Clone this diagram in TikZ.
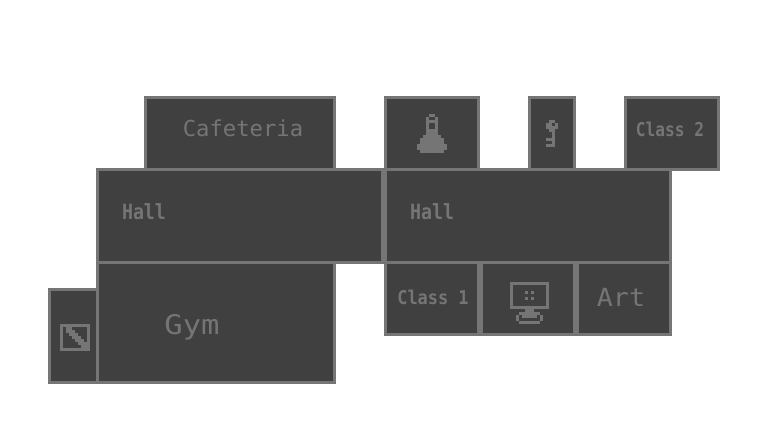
\documentclass[tikz,border=0pt]{standalone}
\usepackage{fontspec}
\newfontfamily\pixfont{DejaVu Sans Mono}
\definecolor{roomfill}{RGB}{64,64,64}
\definecolor{roomline}{RGB}{117,117,117}
\tikzset{
	room/.style={draw=roomline,fill=roomfill,line width=3pt,rectangle,inner sep=0pt,outer sep=0pt,anchor=north west},
	lbl/.style={text=roomline,inner sep=0pt,transform shape}
}
\newcommand{\lblsize}[1]{\pixfont\fontsize{#1}{#1}\selectfont}

\begin{document}
\begin{tikzpicture}[x=1pt,y=-1pt]
	\useasboundingbox (0,0) rectangle (768,432);
	\fill[white] (0,0) rectangle (768,432);
	\foreach \nm/\xa/\ya/\bw/\bh in {cafeteria/144/96/192/75,lab/384/96/96/75,keyroom/528/96/48/75,classtwo/624/96/96/75,
		hallwest/96/168/288/96,halleast/384/168/288/96,gym/96/261/240/123,closet/48/288/51/96,
		classone/384/261/96/75,computer/480/261/96/75,art/576/261/96/75}
		\node[room,minimum width=\bw pt-3pt,minimum height=\bh pt-3pt] (\nm) at (\xa+1.5,\ya+1.5) {};

	\node[lbl,font=\lblsize{22},xscale=1.01] (cafeterialbl) at (243,128) {Cafeteria};
	\node[lbl,font=\lblsize{21}\bfseries,xscale=.87] (hallwestlbl) at (144,212) {Hall};
	\node[lbl,font=\lblsize{21}\bfseries,xscale=.87] (halleastlbl) at (432,212) {Hall};
	\node[lbl,font=\lblsize{27},xscale=1.13] (gymlbl) at (192,327) {Gym};
	\node[lbl,font=\lblsize{19}\bfseries,xscale=.89] (classonelbl) at (433,297) {Class 1};
	\node[lbl,font=\lblsize{19}\bfseries,xscale=.85] (classtwolbl) at (670,129) {Class 2};
	\node[lbl,font=\lblsize{25},xscale=1.07] (artlbl) at (621,297) {Art};

	% flask
	\foreach \xa/\ya/\xb/\yb in {429/114/435/117,426/117/429/135,435/117/438/135,429/120/435/123,429/129/435/135,
		423/135/441/138,420/138/444/144,417/144/447/150,420/150/444/153}
		\fill[roomline] (\xa,\ya) rectangle (\xb,\yb);
	% key
	\foreach \xa/\ya/\xb/\yb in {549/120/555/123,546/123/552/129,552/126/558/129,555/123/558/126,549/129/555/132,
		552/132/555/147,546/138/552/141,546/144/552/147}
		\fill[roomline] (\xa,\ya) rectangle (\xb,\yb);
	% monitor
	\draw[roomline,line width=3pt] (511.5,283.5) rectangle (547.5,307.5);
	\foreach \xa/\ya/\xb/\yb in {525/291/528/294,531/291/534/294,525/297/528/300,531/297/534/300,
		525/309/534/312,522/312/537/318,519/312/540/315,516/315/519/321,540/315/543/321,519/321/540/324}
		\fill[roomline] (\xa,\ya) rectangle (\xb,\yb);
	% closet sign
	\draw[roomline,line width=3pt] (61.5,325.5) rectangle (88.5,349.5);
	\foreach \xa/\ya/\xb/\yb in {66/327/72/330,66/330/75/333,69/333/78/336,72/336/81/339,75/339/84/342,78/342/87/345,81/345/90/348}
		\fill[roomline] (\xa,\ya) rectangle (\xb,\yb);
\end{tikzpicture}
\end{document}
